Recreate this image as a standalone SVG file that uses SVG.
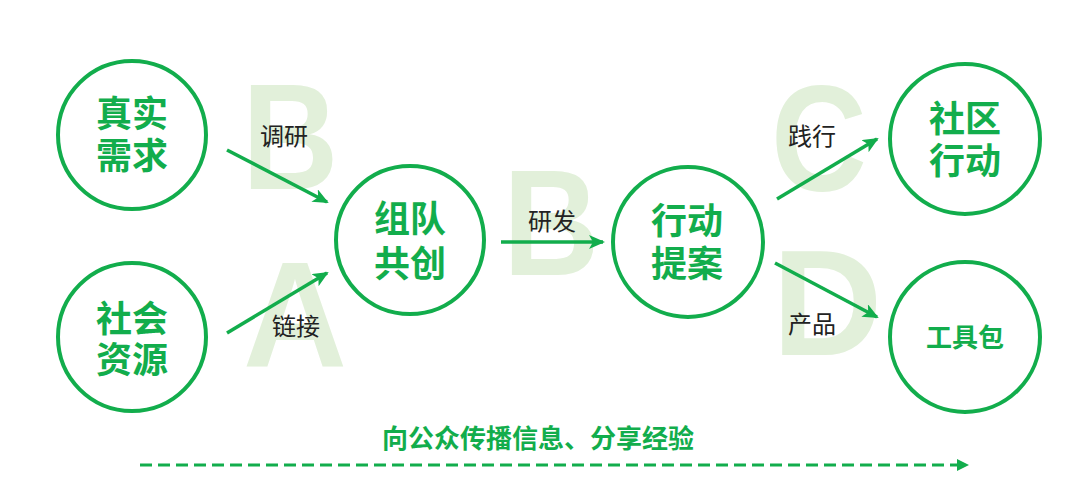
<svg xmlns="http://www.w3.org/2000/svg" width="1080" height="495" viewBox="0 0 1080 495">
<defs>
<style>
.bg{font-family:"Liberation Sans",Arial,sans-serif;font-weight:bold;font-size:150px;fill:#E2F0DA}
.node circle{fill:none;stroke:#12AD4C;stroke-width:4}
.node text{font-family:"Noto Sans CJK SC",sans-serif;font-weight:bold;font-size:36px;fill:#12AD4C;text-anchor:middle}
.lbl{font-family:"Noto Sans CJK SC",sans-serif;font-size:24px;fill:#222}
.conn line{stroke:#12AD4C;stroke-width:3.5;marker-end:url(#ah)}
</style>
<marker id="ah" markerUnits="userSpaceOnUse" markerWidth="16" markerHeight="14" refX="14" refY="7" orient="auto">
<path d="M0,0 L16,7 L0,14 L4,7 Z" fill="#12AD4C"/>
</marker>
<marker id="ah2" markerUnits="userSpaceOnUse" markerWidth="12" markerHeight="12" refX="11" refY="6" orient="auto">
<path d="M0,0 L12,6 L0,12 Z" fill="#12AD4C"/>
</marker>
</defs>
<rect width="1080" height="495" fill="#fff"/>
<g id="bg-letters">
<text class="bg" transform="translate(242,189) scale(0.89,1)">B</text>
<text class="bg" transform="translate(243,366) scale(0.96,1)">A</text>
<text class="bg" transform="translate(503,275) scale(0.89,1)">B</text>
<text class="bg" transform="translate(771,191) scale(0.885,1)">C</text>
<text class="bg" transform="translate(772,355) scale(1.02,1)">D</text>
</g>
<g id="connectors" class="conn">
<line x1="227" y1="150" x2="327" y2="202"/>
<line x1="227" y1="333" x2="327" y2="273"/>
<line x1="501" y1="242" x2="603" y2="242"/>
<line x1="777" y1="199" x2="877" y2="139"/>
<line x1="775" y1="263" x2="877" y2="317"/>
<line x1="140" y1="465" x2="968" y2="465" style="stroke-width:3;stroke-dasharray:12 6;marker-end:url(#ah2)"/>
</g>
<g id="labels">
<text class="lbl" x="260" y="145">调研</text>
<text class="lbl" x="272" y="335">链接</text>
<text class="lbl" x="528" y="230">研发</text>
<text class="lbl" x="788" y="145">践行</text>
<text class="lbl" x="788" y="333">产品</text>
</g>
<g id="n1" class="node"><circle cx="132" cy="135" r="74"/><text x="132" y="127">真实</text><text x="132" y="169">需求</text></g>
<g id="n2" class="node"><circle cx="132" cy="337" r="74"/><text x="132" y="332">社会</text><text x="132" y="373">资源</text></g>
<g id="n3" class="node"><circle cx="410" cy="240" r="74"/><text x="410" y="232">组队</text><text x="410" y="277">共创</text></g>
<g id="n4" class="node"><circle cx="688" cy="242" r="75"/><text x="687" y="234">行动</text><text x="687" y="277">提案</text></g>
<g id="n5" class="node"><circle cx="965" cy="139" r="75"/><text x="965" y="132">社区</text><text x="965" y="174">行动</text></g>
<g id="n6" class="node"><circle cx="965" cy="337" r="75"/><text x="965" y="347" style="font-size:26px">工具包</text></g>
<g id="footer"><text x="538" y="448" style="font-family:'Noto Sans CJK SC',sans-serif;font-weight:bold;font-size:26px;fill:#12AD4C;text-anchor:middle">向公众传播信息、分享经验</text></g>
</svg>
